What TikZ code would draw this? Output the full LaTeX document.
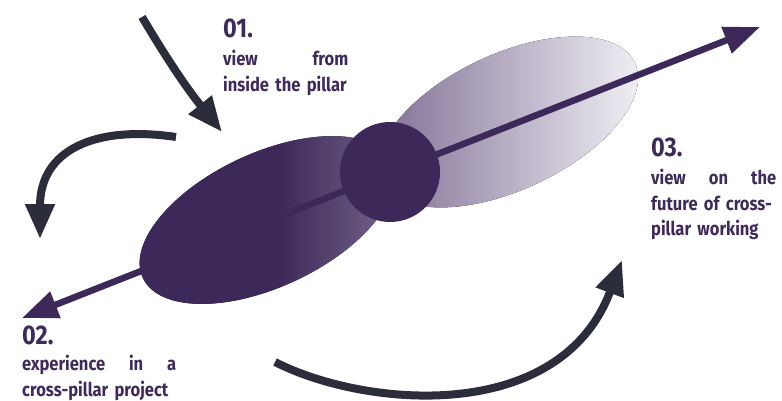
\documentclass[tikz,border=0pt]{standalone}
\usepackage{fontspec}
\newfontfamily\labelfont{Fira Sans}[FakeStretch=0.87]
\usetikzlibrary{arrows.meta}

\definecolor{txtpurple}{HTML}{3F2B5B}
\definecolor{pdark}{HTML}{3D2959}
\definecolor{arrowdark}{HTML}{2B2E3A}
\definecolor{plight}{HTML}{7A6A91}
\definecolor{pfade}{HTML}{F5F4F8}

\pgfdeclarehorizontalshading{darkleaf}{100bp}{color(0bp)=(pdark); color(52bp)=(pdark); color(75bp)=(plight); color(100bp)=(plight)}

\tikzset{
  numlbl/.style={font=\labelfont\bfseries\fontsize{27}{30}\selectfont,text=txtpurple,inner sep=0,anchor=base west},
  desc/.style={font=\labelfont\bfseries\fontsize{19}{25.5}\selectfont,text=txtpurple,inner sep=0,anchor=north west,align=left},
  turn/.style={draw=arrowdark,line width=8pt,-{Triangle[length=35pt,width=28pt]}}
}

\begin{document}
\begin{tikzpicture}[x=1pt,y=-1pt]
\useasboundingbox (0,0) rectangle (782,401);
% leaves
\fill[shading=darkleaf,rotate around={25:(267,220)}] (267,220) ellipse (137 and 67);
\fill[left color=plight,right color=pfade,rotate around={25:(508,122)}] (508,122) ellipse (140 and 68);
% axis
\coordinate (endL) at (22,318);
\coordinate (endR) at (760,27);
\draw[pdark,line width=6.5pt,{Triangle[length=36pt,width=27pt]}-{Triangle[length=36pt,width=27pt]}] (endL) -- (endR);
\node[circle,fill=pdark,minimum size=100pt,inner sep=0] (hub) at (390,172) {};
% turning arrows
\coordinate (a1) at (142,17);
\coordinate (b1) at (222,132);
\coordinate (a2) at (176,137);
\coordinate (b2) at (40,239);
\coordinate (a3) at (275,362);
\coordinate (b3) at (622,260);
\draw[turn] (a1) to[bend right=4] (b1);
\draw[turn] (a2) .. controls (95,125) and (40,150) .. (b2);
\draw[turn] (a3) .. controls (365,408) and (560,425) .. (b3);
% labels
\node[numlbl] (n1) at (223,38) {01.};
\node[desc,text width=125pt] (t1) at (223,50) {view\hfill from\\\mbox{inside the pillar}};
\node[numlbl] (n2) at (22,344) {02.};
\node[desc,text width=154pt] (t2) at (22,355) {experience\hfill in\hfill a\\\mbox{cross-pillar project}};
\node[numlbl] (n3) at (651,157) {03.};
\node[desc,text width=125pt] (t3) at (651,169) {view\hfill on\hfill the\\\mbox{future of cross-}\\\mbox{pillar working}};
\end{tikzpicture}
\end{document}
